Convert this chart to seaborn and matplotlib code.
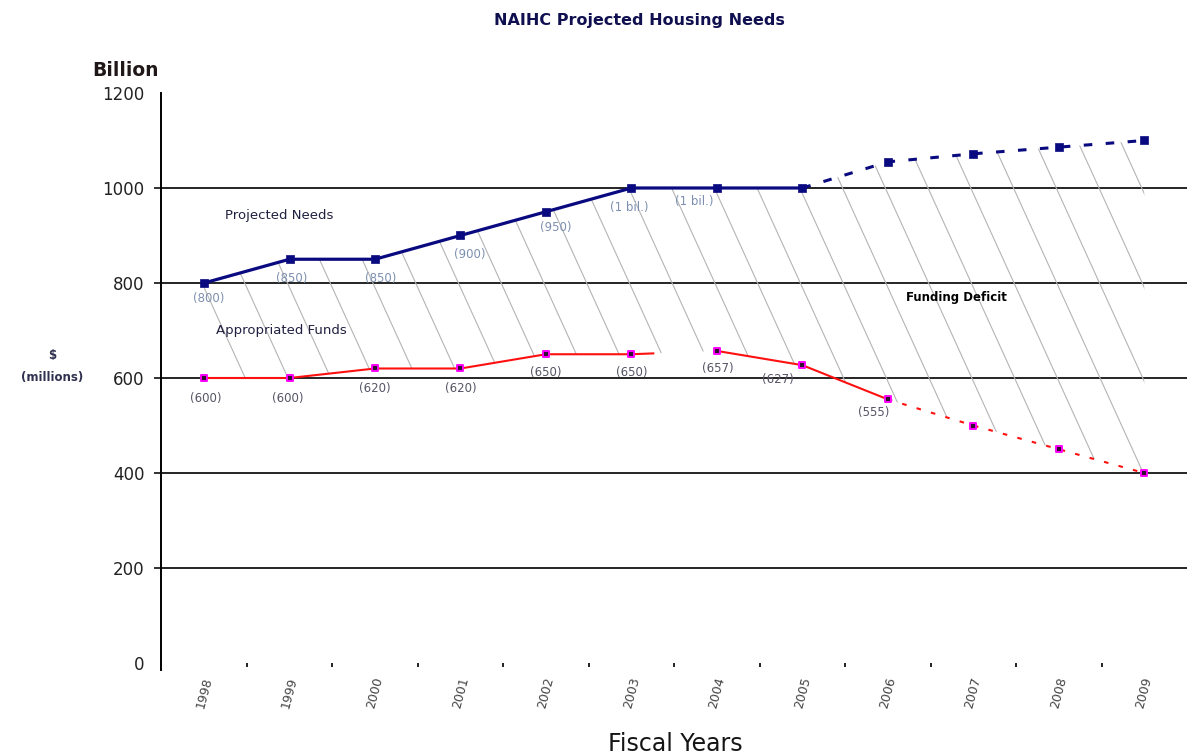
import numpy as np
import pandas as pd
import matplotlib
matplotlib.use("Agg")
import matplotlib.pyplot as plt
import seaborn as sns

# ---------------- data ----------------
years = [1998, 1999, 2000, 2001, 2002, 2003, 2004, 2005, 2006, 2007, 2008, 2009]
year_labels = [str(y) for y in years]
projected_needs = [800, 850, 850, 900, 950, 1000, 1000, 1000, 1055, 1072, 1086, 1100]
appropriated = [600, 600, 620, 620, 650, 650, 657, 627, 555, 500, 450, 400]
needs_labels = ["(800)", "(850)", "(850)", "(900)", "(950)", "(1 bil.)", "(1 bil.)"]
approp_labels = ["(600)", "(600)", "(620)", "(620)", "(650)", "(650)", "(657)", "(627)", "(555)"]
y_ticks = [0, 200, 400, 600, 800, 1000, 1200]

# ---------------- style ----------------
sns.set_style("white")
plt.rcParams["font.family"] = ["DejaVu Sans"]

NAVY = "#0a0a80"
RED = "#ff1010"
MAGENTA = "#ff00ff"

fig = plt.figure(figsize=(11.93, 7.56), dpi=100)
ax = fig.add_axes([0.1352, 0.123, 0.995 - 0.1352, 0.877 - 0.123])

df = pd.DataFrame({"year": years, "needs": projected_needs, "approp": appropriated})

# funding deficit region (invisible polygon used as a clip path for the hatch lines)
poly = ax.fill_between(df["year"], df["approp"], df["needs"], facecolor="none",
                       edgecolor="none", zorder=1)
clip_path = poly.get_paths()[0]
k = 0.00253
for c in np.arange(1994.0, 2010.5, 0.5) - 0.03:
    yy = np.array([1300.0, -100.0])
    xx = c + (1000.0 - yy) * k
    ln, = ax.plot(xx, yy, color="#b4b4b4", lw=0.8, zorder=1.5)
    ln.set_clip_path(clip_path, ax.transData)

# projected needs: solid 1998-2005, dashed 2005-2009
sns.lineplot(data=df.iloc[0:8], x="year", y="needs", ax=ax, color=NAVY, lw=2.3,
             zorder=3, sort=False)
sns.lineplot(data=df.iloc[7:12], x="year", y="needs", ax=ax, color=NAVY, lw=2.2,
             linestyle=(0, (2.8, 4.4)), zorder=3, sort=False)
sns.scatterplot(data=df, x="year", y="needs", ax=ax, marker="s", s=32, color=NAVY,
                edgecolor=NAVY, linewidth=0.5, zorder=4)

# appropriated funds
sns.lineplot(data=df.iloc[0:6], x="year", y="approp", ax=ax, color=RED, lw=1.5,
             zorder=3, sort=False)
sns.lineplot(data=df.iloc[5:7], x="year", y="approp", ax=ax, color=RED, lw=1.5,
             linestyle=(0, (11, 200)), zorder=3, sort=False)
sns.lineplot(data=df.iloc[6:9], x="year", y="approp", ax=ax, color=RED, lw=1.5,
             zorder=3, sort=False)
sns.lineplot(data=df.iloc[8:12], x="year", y="approp", ax=ax, color=RED, lw=1.5,
             linestyle=(0, (2.2, 5)), zorder=3, sort=False)
sns.scatterplot(data=df, x="year", y="approp", ax=ax, marker="s", s=24,
                color="#301030", edgecolor=MAGENTA, linewidth=1.4, zorder=4)

# value labels
needs_off = [(3, -11), (1.5, -14), (4, -14), (6.5, -14), (7, -11.5), (-1.5, -14), (-16, -9.5)]
for yr, v, t, (dx, dy) in zip(years, projected_needs, needs_labels, needs_off):
    ax.annotate(t, (yr, v), xytext=(dx, dy), textcoords="offset points", ha="center",
                va="center", fontsize=8.5, color="#7d8fb0", zorder=5)
approp_off = [(1, -14.5), (-1, -14.5), (0, -14.5), (0, -14.5), (0, -13), (0, -13),
              (1, -13), (-18, -10), (-10, -9.5)]
for yr, v, t, (dx, dy) in zip(years, appropriated, approp_labels, approp_off):
    ax.annotate(t, (yr, v), xytext=(dx, dy), textcoords="offset points", ha="center",
                va="center", fontsize=8.5, color="#555566", zorder=5)

ax.text(1998.25, 943, "Projected Needs", fontsize=9.5, color="#202040", ha="left",
        va="center", zorder=5)
ax.text(1998.14, 701, "Appropriated Funds", fontsize=9.5, color="#202040", ha="left",
        va="center", zorder=5)
ax.text(2006.21, 770, "Funding Deficit", fontsize=8.5, fontweight="bold", color="black",
        ha="left", va="center", zorder=5)

# axes
ax.set_xlim(1997.5, 2009.5)
ax.set_ylim(0, 1200)
ax.set_yticks(y_ticks)
ax.set_yticklabels([str(v) for v in y_ticks], fontsize=12, color="#222222")
ax.set_xticks(years)
ax.set_xticklabels(year_labels, rotation=75, fontsize=9, color="#444444")
ax.set_xticks([y + 0.5 for y in years[:-1]], minor=True)
ax.tick_params(axis="x", which="major", length=0, pad=9, bottom=True)
ax.tick_params(axis="x", which="minor", length=3, width=1.4, color="#222222",
               bottom=True)
ax.tick_params(axis="y", which="major", length=5, width=1.2, color="#111111", pad=7,
               left=True)
yticks_objs = ax.yaxis.get_major_ticks()
yticks_objs[0].tick1line.set_visible(False)
yticks_objs[-1].tick1line.set_visible(False)
for lab in ax.get_xticklabels():
    lab.set_ha("center")
    lab.set_va("top")

ax.set_xlabel("")
ax.set_ylabel("")
ax.grid(axis="y", color="black", lw=1.2)
ax.grid(axis="x", visible=False)
gls = ax.get_ygridlines()
gls[0].set_visible(False)
gls[-1].set_visible(False)
for s in ["top", "right", "bottom"]:
    ax.spines[s].set_visible(False)
ax.spines["left"].set_color("black")
ax.spines["left"].set_linewidth(1.4)
ax.spines["left"].set_bounds(-15, 1200)
ax.set_axisbelow(True)

fig.text(0.5356, 0.9735, "NAIHC Projected Housing Needs", fontsize=11.5,
         fontweight="bold", color="#101050", ha="center", va="center")
fig.text(0.1056, 0.9074, "Billion", fontsize=13.5, fontweight="bold", color="#201818",
         ha="center", va="center")
fig.text(0.0436, 0.530, "$", fontsize=8.5, fontweight="bold", color="#303050",
         ha="center", va="center")
fig.text(0.0436, 0.5013, "(millions)", fontsize=8.5, fontweight="bold", color="#303050",
         ha="center", va="center")
fig.text(0.566, 0.016, "Fiscal Years", fontsize=17, color="#151515", ha="center",
         va="center")

fig.savefig("out.png", dpi=100)
